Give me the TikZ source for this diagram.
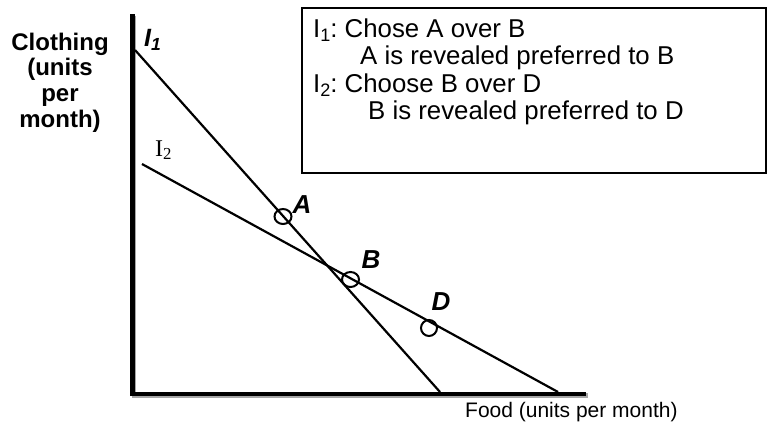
\documentclass[tikz,border=0pt]{standalone}
\usepackage{fontspec}
\setmainfont{Liberation Sans}
\newfontfamily\serifI{Liberation Serif}
\usetikzlibrary{shapes.geometric}
\newcommand{\lowsub}[1]{\raisebox{-0.32ex}{\scalebox{0.7}{#1}}}
\frenchspacing
\begin{document}
\begin{tikzpicture}[x=1pt,y=-1pt,
  axisline/.style={line width=4.5pt},
  axisshadow/.style={line width=4.5pt,draw=black!35},
  curve/.style={line width=2.2pt},
  pt/.style={ellipse,draw,line width=2pt,inner sep=0pt,minimum width=17pt,minimum height=15pt},
  ptlabel/.style={anchor=base,inner sep=0pt,font=\fontsize{26}{28}\selectfont\bfseries\itshape},
  ylab/.style={anchor=base,inner sep=0pt,font=\fontsize{24}{26}\selectfont\bfseries},
  boxtext/.style={anchor=base west,inner sep=0pt,font=\fontsize{25.8}{28}\selectfont\frenchspacing},
  xlab/.style={anchor=base west,inner sep=0pt,font=\fontsize{21}{23}\selectfont}]
\useasboundingbox (0,0) rectangle (769,434);
% axes
\coordinate (ytop) at (132.5,14);
\coordinate (O) at (132.5,394);
\coordinate (xend) at (586,394);
\coordinate (ytops) at (134,15.5);
\coordinate (Os) at (134,395.5);
\coordinate (xends) at (587.5,395.5);
\draw[axisshadow] (ytops) -- (Os) -- (xends);
\draw[axisline] (ytop) -- (O) -- (xend);
% budget lines
\coordinate (i1a) at (135,50);
\coordinate (i1b) at (440,392);
\coordinate (i2a) at (142,164);
\coordinate (i2b) at (558,392);
\draw[curve] (i1a) -- (i1b);
\draw[curve] (i2a) -- (i2b);
% points
\node[pt] (cA) at (283,216.5) {};
\node[pt] (cB) at (350.5,279.5) {};
\node[pt,minimum width=16pt,minimum height=16pt] (cD) at (429,328) {};
\node[ptlabel] (lA) at (302,213) {A};
\node[ptlabel] (lB) at (371,268) {B};
\node[ptlabel] (lD) at (441,310) {D};
% line labels
\node[anchor=base west,inner sep=0pt,font=\fontsize{25}{27}\selectfont\bfseries\itshape] (lI1) at (144,46) {I\lowsub{1}};
\node[anchor=base west,inner sep=0pt,font=\fontsize{24}{26}\selectfont\serifI] (lI2) at (155,156) {I\lowsub{2}};
% y label
\node[ylab] (y1) at (60,50) {Clothing};
\node[ylab] (y2) at (60,75.5) {(units};
\node[ylab] (y3) at (60,101) {per};
\node[ylab] (y4) at (60,127) {month)};
% x label
\node[xlab] (xl) at (465,417) {Food (units per month)};
% box
\node[draw,line width=2pt,anchor=north west,minimum width=464pt,minimum height=165pt,inner sep=0pt] (box) at (301,7) {};
\node[boxtext] (t1) at (313,37) {I\lowsub{1}: Chose A over B};
\node[boxtext] (t2) at (360,64.5) {A is revealed preferred to B};
\node[boxtext] (t3) at (313,92) {I\lowsub{2}: Choose B over D};
\node[boxtext] (t4) at (368,119) {B is revealed preferred to D};
\end{tikzpicture}
\end{document}
